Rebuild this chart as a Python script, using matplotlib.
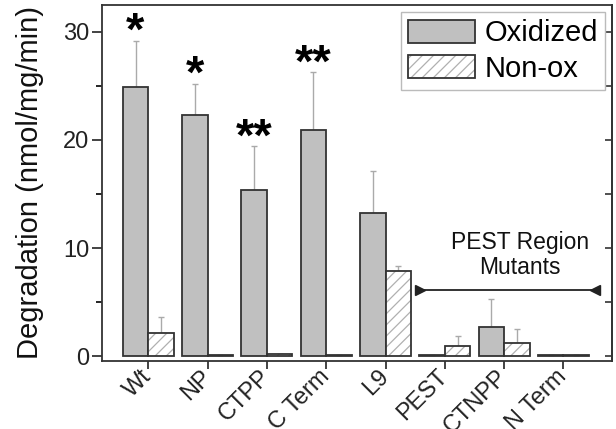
import matplotlib
matplotlib.use("Agg")
import matplotlib.pyplot as plt
import numpy as np
from matplotlib.ticker import MultipleLocator

plt.rcParams['font.family'] = ['Liberation Sans', 'DejaVu Sans']
plt.rcParams['hatch.linewidth'] = 0.9

categories = ["Wt", "NP", "CTPP", "C Term", "L9", "PEST", "CTNPP", "N Term"]
oxidized = [24.9, 22.3, 15.35, 20.9, 13.2, 0.05, 2.65, 0.05]
oxidized_err = [4.3, 2.9, 4.05, 5.4, 3.9, 0.0, 2.6, 0.0]
nonox = [2.15, 0.05, 0.15, 0.05, 7.9, 0.95, 1.2, 0.05]
nonox_err = [1.45, 0.0, 0.05, 0.0, 0.4, 0.95, 1.3, 0.0]
stars = ["*", "*", "**", "**", "", "", "", ""]

bracket_x = [4.58, 7.53]
bracket_y = 6.1
bracket_text = "PEST Region\nMutants"
bracket_text_x = 6.27

fig = plt.figure(figsize=(6.16, 4.29), dpi=100)
ax = fig.add_axes([0.1656, 0.1585, 0.828, 0.830])

x = np.arange(len(categories))
w = 0.43
edge = '#333333'

b1 = ax.bar(x - w, oxidized, w, align='edge', color='#c0c0c0',
            edgecolor=edge, linewidth=1.3, zorder=2)
bh = ax.bar(x, nonox, w, align='edge', color='white', hatch='///',
            edgecolor='#b0b0b0', linewidth=0, zorder=2)
bo = ax.bar(x, nonox, w, align='edge', fill=False,
            edgecolor=edge, linewidth=1.3, zorder=3)

ax.errorbar(x - w / 2, oxidized, yerr=[np.zeros(len(x)), oxidized_err],
            fmt='none', ecolor='#aaaaaa', elinewidth=1.0, capsize=2.5,
            capthick=1.0, zorder=1)
ax.errorbar(x + w / 2, nonox, yerr=[np.zeros(len(x)), nonox_err],
            fmt='none', ecolor='#aaaaaa', elinewidth=1.0, capsize=2.5,
            capthick=1.0, zorder=1)

for xi, v, e, s in zip(x, oxidized, oxidized_err, stars):
    if s:
        ax.text(xi - w / 2, v + e - 0.4, s, ha='center', va='baseline',
                fontsize=34, fontweight='bold', color='black', zorder=5)

# bracket for PEST region mutants
ax.plot(bracket_x, [bracket_y, bracket_y], color='#222222', lw=1.3, zorder=4)
ax.plot([bracket_x[0]], [bracket_y], marker='>', color='#222222', ms=7, zorder=4)
ax.plot([bracket_x[1]], [bracket_y], marker='<', color='#222222', ms=7, zorder=4)
ax.text(bracket_text_x, bracket_y + 1.0, bracket_text, ha='center',
        va='bottom', fontsize=16.5, linespacing=1.15, color='#111111')

ax.set_xlim(-0.78, 7.82)
ax.set_ylim(-0.46, 32.5)
ax.set_xticks(x)
ax.set_xticklabels(categories, rotation=45, ha='right', va='center',
                   rotation_mode='anchor', fontsize=17)
ax.yaxis.set_major_locator(MultipleLocator(10))
ax.yaxis.set_minor_locator(MultipleLocator(5))
ax.tick_params(axis='y', which='major', length=7, width=1.2, labelsize=17,
               colors='#222222', direction='out', pad=2)
ax.tick_params(axis='y', which='minor', length=4, width=1.2, direction='out')
ax.tick_params(axis='x', which='major', length=6, width=1.2, direction='out',
               pad=3, colors='#222222')
ax.set_ylabel("Degradation (nmol/mg/min)", fontsize=21, labelpad=14,
              color='#111111')

for sp in ax.spines.values():
    sp.set_linewidth(1.3)
    sp.set_color('#333333')

sec = ax.secondary_yaxis('right')
sec.yaxis.set_major_locator(MultipleLocator(10))
sec.yaxis.set_minor_locator(MultipleLocator(5))
sec.tick_params(which='both', direction='in', labelright=False, length=5,
                width=1.2, colors='#333333')
sec.spines['right'].set_linewidth(1.3)
sec.spines['right'].set_color('#333333')

leg = ax.legend([b1, (bh, bo)], ["Oxidized", "Non-ox"], loc='upper right',
                bbox_to_anchor=(0.986, 0.980), borderaxespad=0, fontsize=21,
                fancybox=False, edgecolor='#bbbbbb', framealpha=1,
                handlelength=2.3, handleheight=0.86, handletextpad=0.3,
                borderpad=0.25, labelspacing=0.25)
leg.get_frame().set_linewidth(1.0)

fig.savefig("out.png", dpi=100)
